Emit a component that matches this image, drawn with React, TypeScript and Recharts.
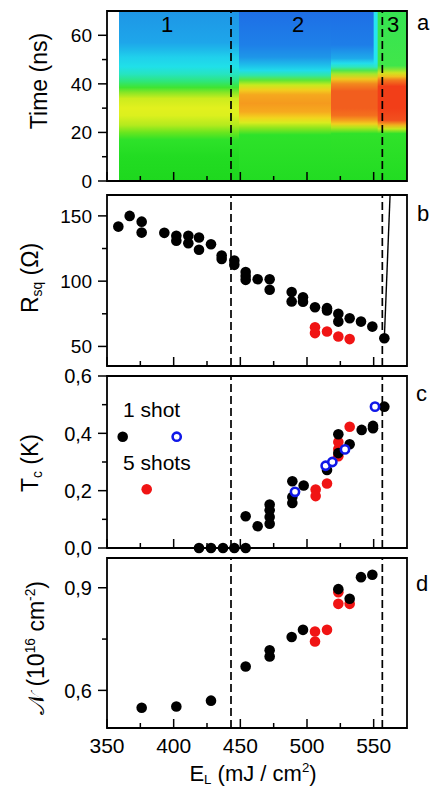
import React from 'react';
import {
  ComposedChart,
  ScatterChart,
  Scatter,
  Area,
  XAxis,
  YAxis,
  ReferenceLine,
  ReferenceArea,
} from 'recharts';

const FONT = '"Liberation Sans", Arial, Helvetica, sans-serif';

// shared laser energy axis (mJ / cm2)
const eDomain = [350, 575];
const eMajor = [350, 400, 450, 500, 550];
const eMinor = [375, 425, 475, 525];
const regionBounds = [443, 556.5];

// panel a: the transient map is split in columns of energy, each filling 0..70 ns
const mapEdges = [359, 449, 518, 550, 553, 575];
const mapKeys = ['r1', 'r2a', 'r2b', 'strip', 'r3'];
const timeTop = 70;
const timeMajor = [0, 20, 40, 60];
const timeMinor = [10, 30, 50];

// panel b: sheet resistance (Ohm)
const rsqOneShot = [
  { x: 358.5, y: 141.8 }, { x: 367, y: 150 }, { x: 376, y: 145.6 }, { x: 376, y: 137.2 },
  { x: 393, y: 137 }, { x: 402, y: 134.7 }, { x: 402, y: 131 }, { x: 411, y: 134.7 },
  { x: 411, y: 129 }, { x: 419, y: 133.4 }, { x: 419, y: 124 }, { x: 428, y: 128.3 },
  { x: 436, y: 119.6 }, { x: 436, y: 117 }, { x: 445.5, y: 115.8 }, { x: 445.5, y: 112.5 },
  { x: 454, y: 107 }, { x: 454, y: 104 }, { x: 454, y: 101 }, { x: 463, y: 101.5 },
  { x: 472, y: 101.5 }, { x: 472, y: 93.4 }, { x: 488.5, y: 91.6 }, { x: 488.5, y: 84.4 },
  { x: 497, y: 87.7 }, { x: 497, y: 84.3 }, { x: 506, y: 80 }, { x: 515, y: 79.3 },
  { x: 515, y: 77.5 }, { x: 523.5, y: 75 }, { x: 523.5, y: 69 }, { x: 532, y: 71.6 },
  { x: 540.5, y: 69 }, { x: 549, y: 65.2 }, { x: 558, y: 56.3 },
];
const rsqFiveShots = [
  { x: 506, y: 64.7 }, { x: 506, y: 60.2 }, { x: 515, y: 61.4 }, { x: 523.5, y: 57.6 }, { x: 532, y: 55.6 },
];
const rsqJump = [{ x: 558, y: 56.3 }, { x: 562.3, y: 166 }];
const rsqDomain = [35, 166];
const rsqMajor = [50, 100, 150];
const rsqMinor = [75, 125];

// panel c: critical temperature (K)
const tcOneShot = [
  { x: 419, y: 0 }, { x: 428, y: 0 }, { x: 437, y: 0 }, { x: 445.5, y: 0 }, { x: 454, y: 0 },
  { x: 454, y: 0.111 }, { x: 463, y: 0.076 }, { x: 472, y: 0.152 }, { x: 472, y: 0.132 },
  { x: 472, y: 0.108 }, { x: 472, y: 0.085 }, { x: 489, y: 0.233 }, { x: 489, y: 0.178 },
  { x: 489, y: 0.157 }, { x: 497.5, y: 0.218 }, { x: 515, y: 0.272 }, { x: 523.5, y: 0.397 },
  { x: 523.5, y: 0.331 }, { x: 532, y: 0.362 }, { x: 541, y: 0.412 }, { x: 549.5, y: 0.418 },
  { x: 549.5, y: 0.426 }, { x: 558, y: 0.493 },
];
const tcFiveShots = [
  { x: 506.5, y: 0.204 }, { x: 506.5, y: 0.181 }, { x: 515, y: 0.225 }, { x: 523.5, y: 0.37 },
  { x: 523.5, y: 0.345 }, { x: 523.5, y: 0.32 }, { x: 532, y: 0.423 },
];
const tcOther = [
  { x: 491, y: 0.196 }, { x: 514, y: 0.287 }, { x: 519, y: 0.3 }, { x: 528.5, y: 0.344 }, { x: 551, y: 0.493 },
];
const tcMajor = [0, 0.2, 0.4, 0.6];
const tcMinor = [0.1, 0.3, 0.5];

// panel d: carrier density (1e16 cm-2)
const nOneShot = [
  { x: 376, y: 0.549 }, { x: 402, y: 0.553 }, { x: 428, y: 0.57 }, { x: 454, y: 0.67 },
  { x: 472, y: 0.717 }, { x: 472, y: 0.699 }, { x: 488.5, y: 0.756 }, { x: 497, y: 0.777 },
  { x: 523.5, y: 0.896 }, { x: 532, y: 0.868 }, { x: 540.5, y: 0.931 }, { x: 549, y: 0.938 },
];
const nFiveShots = [
  { x: 506, y: 0.772 }, { x: 506, y: 0.743 }, { x: 515, y: 0.777 }, { x: 523.5, y: 0.887 },
  { x: 523.5, y: 0.853 }, { x: 532, y: 0.853 },
];
const nDomain = [0.49, 0.987];
const nMajor = [0.6, 0.9];
const nMinor = [0.75];

// each map column starts at its own edge and runs to the end; later columns paint over it
const heatRows = mapEdges.map((E, i) => {
  const row: Record<string, number | null> = { E };
  mapKeys.forEach((k, j) => {
    row[k] = i >= j ? timeTop : null;
  });
  return row;
});

// colour scale of the map along time (ns -> colour), per column
const mapColours: Record<string, [number, string][]> = {
  r1: [
    [0, '#1ed81e'], [10, '#22dc22'], [17, '#2ee22a'], [20, '#6ae61e'], [23, '#b4ea1e'],
    [27, '#dcf01e'], [30, '#e2f01e'], [34, '#ccec1e'], [36.5, '#86e626'], [38.5, '#40e432'],
    [41, '#2ee67a'], [44, '#26e4c0'], [47, '#20e0e8'], [51, '#20d0ec'], [54, '#1ebaea'],
    [57, '#1ea6ea'], [70, '#1e96e6'],
  ],
  r2a: [
    [0, '#22dc22'], [19, '#2ee22a'], [22, '#94e61e'], [24, '#d8ec1e'], [26, '#f2d41e'],
    [28.5, '#f6aa1e'], [32, '#f59a1e'], [35.5, '#f5a81e'], [37.5, '#f2ce1e'], [39.5, '#c8ea1e'],
    [41.5, '#5ee636'], [43.5, '#30e6a8'], [45.5, '#20dcea'], [48, '#1ebaea'], [51, '#1e96e8'],
    [56, '#1e80e8'], [70, '#1e6ee6'],
  ],
  r2b: [
    [0, '#22dc22'], [19.5, '#30e22a'], [22, '#b0e61e'], [23.5, '#f0d01e'], [25, '#f4a01e'],
    [27, '#f4701e'], [30, '#f25e1e'], [37, '#f25e1e'], [40, '#f2881e'], [42, '#f0c81e'],
    [44, '#a8e62a'], [45.5, '#50e650'], [47, '#2ee6c0'], [48.5, '#22dcec'], [50.5, '#1eaaea'],
    [56, '#1e7ee8'], [70, '#1e6ee6'],
  ],
  strip: [
    [0, '#22dc22'], [19.5, '#30e22a'], [22, '#b0e61e'], [23.5, '#f0d01e'], [25, '#f4a01e'],
    [27, '#f4701e'], [30, '#f25e1e'], [37, '#f25e1e'], [40, '#f2881e'], [42, '#f0c81e'],
    [44, '#a8e62a'], [45.5, '#50e650'], [47, '#2ee6c8'], [49, '#24e4f0'], [70, '#28e4f0'],
  ],
  r3: [
    [0, '#22dc22'], [19.5, '#30e22a'], [21.5, '#c8e61e'], [23, '#f0b01e'], [25, '#f2501e'],
    [30, '#f23e18'], [39, '#f23e18'], [41.5, '#f2781e'], [43, '#f0c01e'], [44.5, '#d0e420'],
    [46, '#80e636'], [47.5, '#40e64a'], [70, '#36e452'],
  ],
};

const comma = (d: number) => (v: number) => v.toFixed(d).replace('.', ',');

function makeYTick(major: number[], fmt: (v: number) => string, size: number) {
  return (props: any) => {
    const { x, y, payload } = props;
    const isMajor = major.some((m) => Math.abs(m - payload.value) < 1e-9);
    const len = isMajor ? 9 : 5;
    return (
      <g>
        <line x1={x - len} x2={x} y1={y} y2={y} stroke="#000" strokeWidth={1.5} />
        {isMajor && (
          <text x={x - len - 6} y={y} dy="0.36em" textAnchor="end" fontSize={size} fontFamily={FONT} fill="#000">
            {fmt(payload.value)}
          </text>
        )}
      </g>
    );
  };
}

function makeXTick(showLabels: boolean) {
  return (props: any) => {
    const { x, y, payload } = props;
    const isMajor = eMajor.includes(payload.value);
    const len = isMajor ? 9 : 5;
    return (
      <g>
        <line x1={x} x2={x} y1={y} y2={y - len} stroke="#000" strokeWidth={1.5} />
        {showLabels && isMajor && (
          <text x={x} y={y + 25} textAnchor="middle" fontSize={21} fontFamily={FONT} fill="#000">
            {payload.value}
          </text>
        )}
      </g>
    );
  };
}

function VGrad({ id, stops }: { id: string; stops: [number, string][] }) {
  return (
    <linearGradient id={id} x1="0" y1="1" x2="0" y2="0">
      {stops.map(([t, c], i) => (
        <stop key={i} offset={`${((t / timeTop) * 100).toFixed(2)}%`} stopColor={c} />
      ))}
    </linearGradient>
  );
}

const dot = (fill: string) => (p: any) => <circle cx={p.cx} cy={p.cy} r={5.3} fill={fill} />;
const ring = (p: any) => <circle cx={p.cx} cy={p.cy} r={4.1} fill="#fff" stroke="#1018e8" strokeWidth={2.6} />;
const noDot = () => <g />;

const W = 432;
const M = { top: 12, right: 25, left: 47, bottom: 7 };

function ScatterPanel({ height, axisHeight, yDomain, yTicks, yTick, labels, children }: any) {
  return (
    <ScatterChart width={W} height={height} margin={M}>
      <XAxis
        type="number"
        dataKey="x"
        domain={eDomain}
        ticks={[...eMajor, ...eMinor]}
        interval={0}
        height={axisHeight}
        tickSize={0}
        tickMargin={0}
        axisLine={false}
        tickLine={false}
        tick={makeXTick(labels)}
      />
      <YAxis
        type="number"
        dataKey="y"
        domain={yDomain}
        ticks={yTicks}
        interval={0}
        width={60}
        tickSize={0}
        tickMargin={0}
        axisLine={false}
        tickLine={false}
        tick={yTick}
      />
      {regionBounds.map((b) => (
        <ReferenceLine key={b} x={b} stroke="#000" strokeWidth={1.7} strokeDasharray="8 4" />
      ))}
      {children}
      <ReferenceArea
        x1={eDomain[0]}
        x2={eDomain[1]}
        y1={yDomain[0]}
        y2={yDomain[1]}
        fill="none"
        fillOpacity={0}
        stroke="#000"
        strokeWidth={1.8}
      />
    </ScatterChart>
  );
}

const abs = (left: number, top: number, extra: React.CSSProperties = {}): React.CSSProperties => ({
  position: 'absolute',
  left,
  top,
  lineHeight: 1,
  whiteSpace: 'nowrap',
  ...extra,
});

const rotated = (cx: number, cy: number): React.CSSProperties => ({
  position: 'absolute',
  left: cx,
  top: cy,
  transform: 'translate(-50%, -50%) rotate(-90deg)',
  whiteSpace: 'nowrap',
  lineHeight: 1,
  fontSize: 23,
});

const sub: React.CSSProperties = { fontSize: '0.6em', verticalAlign: '-0.25em' };
const sup: React.CSSProperties = { fontSize: '0.6em', verticalAlign: '0.65em' };

export default function App() {
  return (
    <div style={{ position: 'absolute', left: 0, top: 0, width: W, height: 792, background: '#fff', fontFamily: FONT, color: '#000', overflow: 'hidden' }}>
      {/* a: transient map */}
      <div style={{ position: 'absolute', left: 0, top: -1 }}>
        <ComposedChart width={W} height={194} data={heatRows} margin={M}>
          <defs>
            {mapKeys.map((k) => (
              <VGrad key={k} id={`map-${k}`} stops={mapColours[k]} />
            ))}
          </defs>
          <XAxis
            type="number"
            dataKey="E"
            domain={eDomain}
            ticks={[...eMajor, ...eMinor]}
            interval={0}
            height={5}
            tickSize={0}
            tickMargin={0}
            axisLine={false}
            tickLine={false}
            tick={makeXTick(false)}
          />
          <YAxis
            type="number"
            domain={[0, timeTop]}
            ticks={[...timeMajor, ...timeMinor]}
            interval={0}
            width={60}
            tickSize={0}
            tickMargin={0}
            axisLine={false}
            tickLine={false}
            tick={makeYTick(timeMajor, (v) => String(v), 19)}
          />
          {mapKeys.map((k) => (
            <Area
              key={k}
              dataKey={k}
              type="linear"
              stroke="none"
              fill={`url(#map-${k})`}
              fillOpacity={1}
              dot={false}
              activeDot={false}
              isAnimationActive={false}
            />
          ))}
          {regionBounds.map((b) => (
            <ReferenceLine key={b} x={b} stroke="#000" strokeWidth={1.7} strokeDasharray="8 4" />
          ))}
          <ReferenceArea x1={eDomain[0]} x2={eDomain[1]} y1={0} y2={timeTop} fill="none" fillOpacity={0} stroke="#000" strokeWidth={1.8} />
        </ComposedChart>
      </div>

      {/* b: sheet resistance */}
      <div style={{ position: 'absolute', left: 0, top: 183 }}>
        <ScatterPanel
          height={195}
          axisHeight={5}
          yDomain={rsqDomain}
          yTicks={[...rsqMajor, ...rsqMinor]}
          yTick={makeYTick(rsqMajor, (v) => String(v), 19)}
          labels={false}
        >
          <Scatter data={rsqJump} line={{ stroke: '#000', strokeWidth: 1.4 }} shape={noDot} isAnimationActive={false} />
          <Scatter data={rsqFiveShots} shape={dot('#f01414')} isAnimationActive={false} />
          <Scatter data={rsqOneShot} shape={dot('#000')} isAnimationActive={false} />
        </ScatterPanel>
      </div>

      {/* c: critical temperature */}
      <div style={{ position: 'absolute', left: 0, top: 364 }}>
        <ScatterPanel
          height={196}
          axisHeight={5}
          yDomain={[0, 0.6]}
          yTicks={[...tcMajor, ...tcMinor]}
          yTick={makeYTick(tcMajor, comma(1), 20)}
          labels={false}
        >
          <Scatter data={tcFiveShots} shape={dot('#f01414')} isAnimationActive={false} />
          <Scatter data={tcOneShot} shape={dot('#000')} isAnimationActive={false} />
          <Scatter data={tcOther} shape={ring} isAnimationActive={false} />
        </ScatterPanel>
      </div>

      {/* d: carrier density */}
      <div style={{ position: 'absolute', left: 0, top: 546 }}>
        <ScatterPanel
          height={242}
          axisHeight={53}
          yDomain={nDomain}
          yTicks={[...nMajor, ...nMinor]}
          yTick={makeYTick(nMajor, comma(1), 20)}
          labels
        >
          <Scatter data={nFiveShots} shape={dot('#f01414')} isAnimationActive={false} />
          <Scatter data={nOneShot} shape={dot('#000')} isAnimationActive={false} />
        </ScatterPanel>
      </div>

      {/* axis titles */}
      <div style={rotated(39, 81)}>Time (ns)</div>
      <div style={rotated(32, 278)}>
        R<span style={sub}>sq</span> (Ω)
      </div>
      <div style={rotated(32, 463)}>
        T<span style={sub}>c</span> (K)
      </div>
      <div style={rotated(36, 648)}>
        𝒩 (10<span style={sup}>16</span> cm<span style={sup}>-2</span>)
      </div>
      <div style={abs(253, 761, { transform: 'translateX(-50%)', fontSize: 22 })}>
        E<span style={sub}>L</span> (mJ / cm<span style={sup}>2</span>)
      </div>

      {/* region numbers */}
      <div style={abs(167, 14, { transform: 'translateX(-50%)', fontSize: 22 })}>1</div>
      <div style={abs(298, 14, { transform: 'translateX(-50%)', fontSize: 22 })}>2</div>
      <div style={abs(393, 14, { transform: 'translateX(-50%)', fontSize: 22 })}>3</div>

      {/* panel letters */}
      <div style={abs(417, 12, { fontSize: 22 })}>a</div>
      <div style={abs(417, 203, { fontSize: 22 })}>b</div>
      <div style={abs(416, 383, { fontSize: 22 })}>c</div>
      <div style={abs(416, 573, { fontSize: 22 })}>d</div>

      {/* legend of panel c */}
      <div style={abs(123, 399, { fontSize: 21 })}>1 shot</div>
      <div style={abs(123, 452, { fontSize: 21 })}>5 shots</div>
      <svg style={{ position: 'absolute', left: 0, top: 0, overflow: 'visible', pointerEvents: 'none' }} width={1} height={1}>
        <circle cx={122.7} cy={436.7} r={5.3} fill="#000" />
        <circle cx={176.7} cy={436.7} r={4.1} fill="#fff" stroke="#1018e8" strokeWidth={2.6} />
        <circle cx={146.7} cy={489.3} r={5.3} fill="#f01414" />
      </svg>
    </div>
  );
}
